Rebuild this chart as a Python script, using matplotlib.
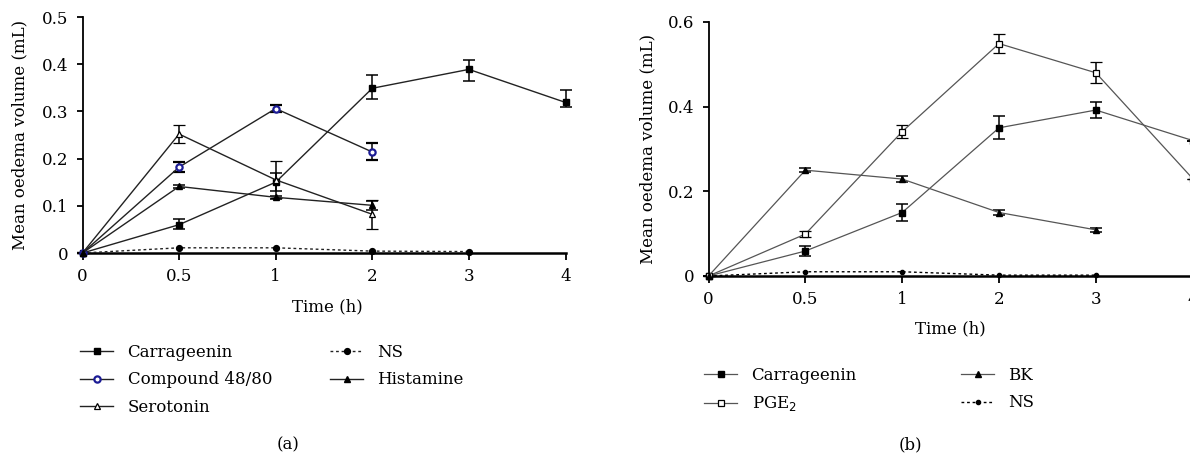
import matplotlib
matplotlib.use("Agg")
import matplotlib.pyplot as plt
from matplotlib.ticker import FuncFormatter

plt.rcParams['font.family'] = ['DejaVu Serif']
plt.rcParams['font.size'] = 12

# ---------------- data ----------------
time_labels = ["0", "0.5", "1", "2", "3", "4"]

# panel (a)
a_carr = [0, 0.060, 0.150, 0.349, 0.389, 0.319]
a_carr_lo = [0, 0.010, 0.019, 0.022, 0.024, 0.010]
a_carr_hi = [0, 0.011, 0.019, 0.028, 0.020, 0.026]
a_comp = [0, 0.182, 0.306, 0.214]
a_comp_err = [0, 0.011, 0.008, 0.018]
a_sero = [0, 0.252, 0.155, 0.082]
a_sero_err = [0, 0.019, 0.039, 0.031]
a_hist = [0, 0.141, 0.118, 0.101]
a_hist_err = [0, 0.003, 0.003, 0.010]
a_ns = [0, 0.011, 0.011, 0.004, 0.003]

# panel (b)
b_carr = [0, 0.059, 0.150, 0.350, 0.392, 0.320]
b_carr_err = [0, 0.012, 0.019, 0.027, 0.019, 0]
b_pge2 = [0, 0.099, 0.341, 0.549, 0.480, 0.230]
b_pge2_err = [0, 0.008, 0.016, 0.022, 0.025, 0]
b_bk = [0, 0.250, 0.229, 0.150, 0.109]
b_bk_err = [0, 0.004, 0.007, 0.007, 0.004]
b_ns = [0, 0.010, 0.010, 0.002, 0.002]

# ---------------- figure ----------------
fig = plt.figure(figsize=(11.9, 4.54), dpi=100)
W, H = 1190, 454

def px_axes(l, r, t, b):
    return fig.add_axes([l / W, 1 - b / H, (r - l) / W, (b - t) / H])

axa = px_axes(82.5, 565.5, 17, 253)
axb = px_axes(708.5, 1192.7, 22, 276)

fmt = FuncFormatter(lambda v, p: "0" if abs(v) < 1e-9 else ("%g" % v))

def style(ax, ymax, ystep):
    ax.set_xlim(0, 5)
    ax.set_ylim(0, ymax)
    ax.set_xticks(range(len(time_labels)))
    ax.set_xticklabels(time_labels)
    n = int(round(ymax / ystep))
    ax.set_yticks([i * ystep for i in range(n + 1)])
    ax.yaxis.set_major_formatter(fmt)
    for s in ("top", "right"):
        ax.spines[s].set_visible(False)
    ax.spines["left"].set_linewidth(1.3)
    ax.spines["bottom"].set_linewidth(1.8)
    ax.tick_params(axis="x", direction="out", length=5, width=1.3, pad=6, labelsize=12)
    ax.tick_params(axis="y", direction="out", length=4, width=1.3, pad=6, labelsize=12)

style(axa, 0.5, 0.1)
style(axb, 0.6, 0.2)

def series(ax, y, err=None, color="#222222", lw=1.0, ls="-", **mk):
    x = list(range(len(y)))
    if err is not None:
        c = ax.errorbar(x, y, yerr=err, color=color, lw=lw, ls=ls,
                        ecolor="black", elinewidth=1.1, capsize=4, capthick=1.1,
                        zorder=3, **mk)
        for a in c.get_children():
            a.set_clip_on(False)
        return c.lines[0]
    ln, = ax.plot(x, y, color=color, lw=lw, ls=ls, clip_on=False, zorder=3, **mk)
    return ln

navy = "#1c1c96"
# panel (a)
h_carr = series(axa, a_carr, [a_carr_lo, a_carr_hi], marker="s", ms=4, mfc="black", mec="black")
h_comp = series(axa, a_comp, a_comp_err, marker="o", ms=4.5, mfc="white", mec=navy, mew=1.6)
h_sero = series(axa, a_sero, a_sero_err, marker="^", ms=5, mfc="white", mec="black", mew=0.9)
h_hist = series(axa, a_hist, a_hist_err, marker="^", ms=5, mfc="black", mec="black")
h_ns = series(axa, a_ns, None, lw=1.0, ls=(0, (2, 2)), marker="o", ms=4.2, mfc="black", mec="black")

# panel (b)
grey = "#555555"
g_carr = series(axb, b_carr, b_carr_err, color=grey, lw=0.9, marker="s", ms=4, mfc="black", mec="black")
g_pge2 = series(axb, b_pge2, b_pge2_err, color=grey, lw=0.9, marker="s", ms=4, mfc="white", mec="black", mew=0.9)
g_bk = series(axb, b_bk, b_bk_err, color=grey, lw=0.9, marker="^", ms=4.2, mfc="black", mec="black")
g_ns = series(axb, b_ns, None, color="black", lw=1.0, ls=(0, (2, 2)), marker="o", ms=3, mfc="black", mec="black")

# axis labels
for ax in (axa, axb):
    ax.set_xlabel("Time (h)", fontsize=12)
    ax.set_ylabel("Mean oedema volume (mL)", fontsize=12)
    ax.xaxis.label.set_verticalalignment("center")
    ax.yaxis.label.set_verticalalignment("center")

def set_label_px(ax, lab_x, lab_y, axis):
    inv = ax.transAxes.inverted()
    p = inv.transform(fig.transFigure.transform((lab_x / W, 1 - lab_y / H)))
    if axis == "x":
        ax.xaxis.set_label_coords(p[0], p[1], transform=ax.transAxes)
    else:
        ax.yaxis.set_label_coords(p[0], p[1], transform=ax.transAxes)

set_label_px(axa, 327, 307, "x")
set_label_px(axa, 20, 135, "y")
set_label_px(axb, 950, 329, "x")
set_label_px(axb, 648, 149, "y")

# legends (one per column)
def col_legend(handles, labels, x_px, y_center_px):
    top = y_center_px - 9
    lg = fig.legend(handles, labels, loc="upper left",
                    bbox_to_anchor=(x_px / W, 1 - top / H),
                    frameon=False, borderpad=0, borderaxespad=0,
                    handlelength=2.0, handletextpad=0.85, labelspacing=0.62,
                    fontsize=12)
    return lg

col_legend([h_carr, h_comp, h_sero], ["Carrageenin", "Compound 48/80", "Serotonin"], 80, 353)
col_legend([h_ns, h_hist], ["NS", "Histamine"], 330, 353)
col_legend([g_carr, g_pge2], ["Carrageenin", "PGE$_2$"], 704, 376)
col_legend([g_bk, g_ns], ["BK", "NS"], 961, 376)

fig.text(288 / W, 1 - 445 / H, "(a)", ha="center", va="center", fontsize=12)
fig.text(910 / W, 1 - 445 / H, "(b)", ha="center", va="center", fontsize=12)

fig.savefig("out.png", dpi=100)
